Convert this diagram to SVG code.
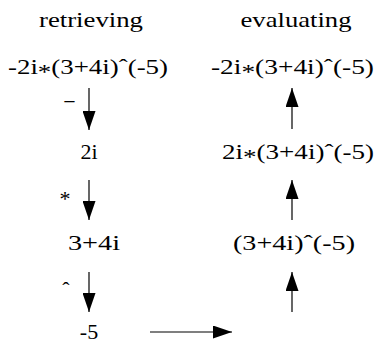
<svg xmlns="http://www.w3.org/2000/svg" width="378" height="343" viewBox="0 0 378 343">
<style>
text{font-family:Liberation Serif,Times New Roman,serif;font-size:22px;fill:#000;text-anchor:middle}
.c{stroke:#000;stroke-width:1.2;fill:none;marker-end:url(#ah)}
</style>
<defs>
<marker id="ah" markerUnits="userSpaceOnUse" markerWidth="19" markerHeight="13" refX="19" refY="6.5" orient="auto">
<path d="M0,0 L19,6.5 L0,13 Z" fill="#000"/>
</marker>
</defs>
<g id="head-retrieving"><text x="91" y="27" textLength="104" lengthAdjust="spacingAndGlyphs">retrieving</text></g>
<g id="head-evaluating"><text x="296" y="27" textLength="111" lengthAdjust="spacingAndGlyphs">evaluating</text></g>
<g id="r1"><text x="88" y="74" textLength="160" lengthAdjust="spacingAndGlyphs">-2i<tspan dy="5">*</tspan><tspan dy="-5">(3+4i)ˆ(-5)</tspan></text></g>
<g id="r2"><text x="89" y="159">2i</text></g>
<g id="r3"><text x="94" y="250" textLength="52" lengthAdjust="spacingAndGlyphs">3+4i</text></g>
<g id="r4"><text x="89" y="339">-5</text></g>
<g id="e1"><text x="292.5" y="74" textLength="163" lengthAdjust="spacingAndGlyphs">-2i<tspan dy="5">*</tspan><tspan dy="-5">(3+4i)ˆ(-5)</tspan></text></g>
<g id="e2"><text x="298" y="159" textLength="152" lengthAdjust="spacingAndGlyphs">2i<tspan dy="5">*</tspan><tspan dy="-5">(3+4i)ˆ(-5)</tspan></text></g>
<g id="e3"><text x="294" y="250" textLength="122" lengthAdjust="spacingAndGlyphs">(3+4i)ˆ(-5)</text></g>
<g id="connectors">
<line class="c" x1="89" y1="88" x2="89" y2="130"/>
<line class="c" x1="89" y1="180" x2="89" y2="220"/>
<line class="c" x1="89" y1="272" x2="89" y2="312"/>
<line class="c" x1="150" y1="332" x2="232" y2="332"/>
<line class="c" x1="292" y1="312" x2="292" y2="272"/>
<line class="c" x1="292" y1="220" x2="292" y2="180"/>
<line class="c" x1="292" y1="129" x2="292" y2="88"/>
<text x="69.5" y="109">−</text>
<text x="65" y="206">*</text>
<text x="66" y="297">ˆ</text>
</g>
</svg>
